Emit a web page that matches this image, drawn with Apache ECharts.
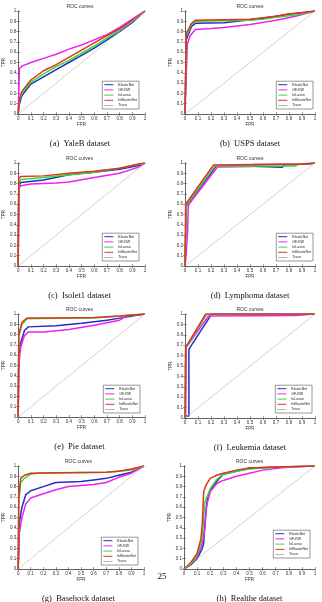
<!DOCTYPE html>
<html>
<head>
<meta charset="utf-8">
<script src="https://cdn.jsdelivr.net/npm/echarts@6/dist/echarts.min.js"></script>
<style>
  html, body { margin: 0; padding: 0; background: #fff; }
  #main { width: 322px; height: 602px; }
</style>
</head>
<body>
<div id="main"></div>
<script>
// names of the methods and the panels
var methods = ["ElasticNet", "GF-RW", "InLasso", "InElasticNet", "Trace"];
var captions = ["(a)  YaleB dataset", "(b)  USPS dataset", "(c)  Isolet1 dataset", "(d)  Lymphoma dataset",
  "(e)  Pie dataset", "(f)  Leukemia dataset", "(g)  Basehock dataset", "(h)  Realthe dataset"];
var pageNumber = "25";
var trace = [[0, 0], [1, 1]];

// (a) YaleB
var yalebElastic = [[0, 0], [0.01, 0.1], [0.03, 0.18], [0.1, 0.29], [0.2, 0.36], [0.3, 0.43], [0.4, 0.5], [0.5, 0.57], [0.6, 0.64], [0.7, 0.72], [0.8, 0.8], [0.9, 0.89], [1, 1]];
var yalebGf = [[0, 0], [0.01, 0.44], [0.03, 0.465], [0.1, 0.5], [0.2, 0.54], [0.3, 0.58], [0.4, 0.63], [0.5, 0.67], [0.56, 0.7], [0.7, 0.77], [0.8, 0.84], [0.9, 0.92], [1, 1]];
var yalebInLasso = [[0, 0], [0.01, 0.13], [0.03, 0.2], [0.1, 0.31], [0.2, 0.39], [0.3, 0.46], [0.4, 0.52], [0.5, 0.59], [0.6, 0.66], [0.7, 0.74], [0.8, 0.82], [0.9, 0.9], [1, 1]];
var yalebInElastic = [[0, 0], [0.01, 0.15], [0.03, 0.22], [0.1, 0.33], [0.2, 0.42], [0.3, 0.48], [0.4, 0.55], [0.5, 0.62], [0.6, 0.69], [0.7, 0.76], [0.8, 0.83], [0.9, 0.91], [1, 1]];

// (b) USPS
var uspsElastic = [[0, 0], [0.01, 0.72], [0.05, 0.85], [0.08, 0.88], [0.3, 0.885], [0.5, 0.915], [0.6, 0.93], [0.7, 0.95], [0.8, 0.97], [0.9, 0.98], [1, 1]];
var uspsGf = [[0, 0], [0.018, 0.68], [0.04, 0.76], [0.08, 0.82], [0.2, 0.83], [0.3, 0.84], [0.5, 0.87], [0.7, 0.91], [0.85, 0.95], [1, 1]];
var uspsInLasso = [[0, 0], [0.01, 0.75], [0.05, 0.87], [0.08, 0.9], [0.3, 0.905], [0.5, 0.91], [0.6, 0.92], [0.7, 0.94], [0.85, 0.96], [1, 1]];
var uspsInElastic = [[0, 0], [0.01, 0.78], [0.05, 0.88], [0.08, 0.91], [0.3, 0.915], [0.5, 0.92], [0.7, 0.95], [0.8, 0.97], [1, 1]];

// (c) Isolet1
var isoletElastic = [[0, 0], [0.005, 0.78], [0.02, 0.81], [0.2, 0.835], [0.4, 0.885], [0.6, 0.91], [0.8, 0.94], [0.95, 0.975], [1, 1]];
var isoletGf = [[0, 0], [0.005, 0.75], [0.02, 0.78], [0.1, 0.795], [0.3, 0.805], [0.4, 0.815], [0.6, 0.86], [0.8, 0.9], [0.95, 0.96], [1, 1]];
var isoletInLasso = [[0, 0], [0.005, 0.8], [0.02, 0.84], [0.2, 0.86], [0.4, 0.885], [0.6, 0.91], [0.8, 0.95], [1, 1]];
var isoletInElastic = [[0, 0], [0.005, 0.85], [0.02, 0.87], [0.2, 0.875], [0.4, 0.9], [0.6, 0.92], [0.8, 0.95], [0.95, 0.99], [1, 1]];

// (d) Lymphoma
var lymphElastic = [[0, 0], [0.01, 0.58], [0.24, 0.97], [0.46, 0.97], [0.47, 0.958], [0.75, 0.958], [0.76, 0.98], [0.95, 0.99], [1, 1]];
var lymphGf = [[0, 0], [0.005, 0.05], [0.02, 0.33], [0.025, 0.57], [0.03, 0.6], [0.25, 0.96], [0.52, 0.965], [0.53, 0.985], [0.95, 0.99], [1, 1]];
var lymphInLasso = [[0, 0], [0.01, 0.59], [0.23, 0.97], [0.85, 0.97], [0.87, 0.99], [1, 1]];
var lymphInElastic = [[0, 0], [0.005, 0.6], [0.22, 0.98], [0.9, 0.99], [1, 1]];

// (e) Pie
var pieElastic = [[0, 0], [0.005, 0.6], [0.02, 0.72], [0.05, 0.84], [0.08, 0.875], [0.3, 0.885], [0.5, 0.91], [0.7, 0.94], [0.8, 0.96], [1, 1]];
var pieGf = [[0, 0], [0.005, 0.5], [0.02, 0.68], [0.05, 0.79], [0.08, 0.825], [0.2, 0.825], [0.4, 0.85], [0.6, 0.89], [0.8, 0.94], [0.85, 0.98], [1, 1]];
var pieInLasso = [[0, 0], [0.005, 0.78], [0.03, 0.9], [0.07, 0.955], [0.3, 0.958], [0.6, 0.962], [0.8, 0.98], [1, 1]];
var pieInElastic = [[0, 0], [0.005, 0.8], [0.03, 0.92], [0.07, 0.96], [0.3, 0.96], [0.6, 0.965], [0.8, 0.98], [1, 1]];

// (f) Leukemia
var leukElastic = [[0, 0], [0.01, 0.02], [0.03, 0.02], [0.03, 0.66], [0.05, 0.7], [0.19, 0.97], [0.2, 1], [1, 1]];
var leukGf = [[0, 0], [0.005, 0.02], [0.01, 0.68], [0.18, 0.98], [0.85, 0.985], [1, 1]];
var leukInLasso = [[0, 0], [0.005, 0.68], [0.02, 0.7], [0.165, 0.995], [1, 1]];
var leukInElastic = [[0, 0], [0.005, 0.69], [0.02, 0.71], [0.16, 1], [1, 1]];

// (g) Basehock
var baseElastic = [[0, 0], [0.005, 0.2], [0.01, 0.45], [0.03, 0.6], [0.06, 0.72], [0.1, 0.76], [0.2, 0.8], [0.3, 0.84], [0.5, 0.85], [0.6, 0.865], [0.7, 0.88], [0.8, 0.91], [0.9, 0.94], [1, 1]];
var baseGf = [[0, 0], [0.005, 0.15], [0.01, 0.35], [0.03, 0.5], [0.06, 0.63], [0.1, 0.69], [0.2, 0.73], [0.3, 0.77], [0.4, 0.8], [0.6, 0.82], [0.7, 0.84], [0.8, 0.89], [0.9, 0.93], [1, 1]];
var baseInLasso = [[0, 0], [0.005, 0.65], [0.02, 0.84], [0.05, 0.88], [0.1, 0.92], [0.15, 0.93], [0.7, 0.94], [0.9, 0.96], [1, 1]];
var baseInElastic = [[0, 0], [0.005, 0.7], [0.02, 0.88], [0.05, 0.91], [0.1, 0.93], [0.3, 0.935], [0.7, 0.94], [0.8, 0.95], [0.9, 0.97], [1, 1]];

// (h) Realthe
var realElastic = [[0, 0], [0.05, 0.04], [0.1, 0.1], [0.14, 0.2], [0.15, 0.25], [0.16, 0.45], [0.18, 0.7], [0.2, 0.77], [0.25, 0.85], [0.27, 0.88], [0.3, 0.92], [0.4, 0.95], [0.5, 0.98], [1, 1]];
var realGf = [[0, 0], [0.05, 0.05], [0.1, 0.12], [0.14, 0.25], [0.16, 0.4], [0.17, 0.6], [0.2, 0.75], [0.25, 0.83], [0.3, 0.86], [0.4, 0.9], [0.5, 0.93], [0.6, 0.96], [0.8, 0.99], [1, 1]];
var realInLasso = [[0, 0], [0.05, 0.05], [0.1, 0.13], [0.14, 0.3], [0.15, 0.5], [0.16, 0.65], [0.2, 0.78], [0.25, 0.87], [0.3, 0.92], [0.4, 0.95], [0.5, 0.97], [0.7, 0.99], [1, 1]];
var realInElastic = [[0, 0], [0.05, 0.06], [0.1, 0.15], [0.13, 0.3], [0.14, 0.45], [0.15, 0.75], [0.17, 0.82], [0.2, 0.88], [0.25, 0.91], [0.3, 0.93], [0.4, 0.96], [0.5, 0.98], [0.7, 0.99], [1, 1]];

var panels = [
  [yalebElastic, yalebGf, yalebInLasso, yalebInElastic],
  [uspsElastic, uspsGf, uspsInLasso, uspsInElastic],
  [isoletElastic, isoletGf, isoletInLasso, isoletInElastic],
  [lymphElastic, lymphGf, lymphInLasso, lymphInElastic],
  [pieElastic, pieGf, pieInLasso, pieInElastic],
  [leukElastic, leukGf, leukInLasso, leukInElastic],
  [baseElastic, baseGf, baseInLasso, baseInElastic],
  [realElastic, realGf, realInLasso, realInElastic]
];

// layout: left, top, width, height of every plot box
var boxes = [[15, 11, 130, 103], [185, 11, 130, 103], [14, 163, 131, 103], [185, 163, 130, 103],
  [14, 314, 131, 103], [185, 314, 130, 104], [13, 466, 131, 103], [184, 466, 131, 103]];
// legend right / bottom offsets in page pixels
var legendPos = [[183, 493], [9, 493], [183, 341], [9, 341], [182, 189], [10, 189], [184, 37], [12, 44]];
var colors = ["#1f2fc0", "#f020f0", "#33dd33", "#e0321e", "#b4b4b4"];
var lineW = [1.5, 1.5, 1.5, 1.5, 0.6];

var option = {
  animation: false,
  backgroundColor: "#fff",
  title: [],
  grid: [],
  xAxis: [],
  yAxis: [],
  legend: [],
  series: []
};

var axisLine = { lineStyle: { color: "#444", width: 0.6 } };
var axisTick = { inside: true, length: 2, lineStyle: { color: "#444", width: 0.5 } };
var lbl = { fontSize: 4.5, color: "#333", fontFamily: "Liberation Sans", margin: 2 };
var nameStyle = { fontSize: 4.5, color: "#333", fontFamily: "Liberation Sans" };

boxes.forEach(function (b, i) {
  option.grid.push({ left: b[0], top: b[1], width: b[2], height: b[3] });
  option.xAxis.push({
    gridIndex: i, type: "value", min: 0, max: 1, interval: 0.1,
    position: "bottom", axisLine: axisLine, axisTick: axisTick,
    axisLabel: lbl, splitLine: { show: false },
    name: "FPR", nameLocation: "middle", nameGap: 8, nameTextStyle: nameStyle
  });
  option.xAxis.push({
    gridIndex: i, type: "value", min: 0, max: 1, interval: 0.1,
    position: "top", axisLine: axisLine, axisTick: axisTick,
    axisLabel: { show: false }, splitLine: { show: false }
  });
  option.yAxis.push({
    gridIndex: i, type: "value", min: 0, max: 1, interval: 0.1,
    position: "left", axisLine: axisLine, axisTick: axisTick,
    axisLabel: lbl, splitLine: { show: false },
    name: "TPR", nameLocation: "middle", nameGap: 9, nameTextStyle: nameStyle
  });
  option.yAxis.push({
    gridIndex: i, type: "value", min: 0, max: 1, interval: 0.1,
    position: "right", axisLine: axisLine, axisTick: axisTick,
    axisLabel: { show: false }, splitLine: { show: false }
  });
  option.title.push({
    text: "ROC curves", left: b[0] + b[2] / 2, top: b[1] - 7, textAlign: "center",
    padding: 0,
    textStyle: { fontSize: 5, fontWeight: "normal", color: "#333", fontFamily: "Liberation Sans" }
  });
  option.title.push({
    text: captions[i], left: b[0] + b[2] / 2, top: b[1] + b[3] + 25, textAlign: "center",
    padding: 0,
    textStyle: { fontSize: 8.5, fontWeight: "normal", color: "#111", fontFamily: "Liberation Serif" }
  });
  option.legend.push({
    data: methods, orient: "vertical", right: legendPos[i][0], bottom: legendPos[i][1],
    icon: "rect", itemWidth: 9, itemHeight: 1, itemGap: 1.2, padding: [1.5, 2],
    borderColor: "#333", borderWidth: 0.5, backgroundColor: "#fff", borderRadius: 0,
    selectedMode: false,
    textStyle: { fontSize: 3.5, lineHeight: 3.8, color: "#222", fontFamily: "Liberation Sans" }
  });
  var curves = panels[i].concat([trace]);
  // trace first so it sits underneath
  [4, 0, 1, 2, 3].forEach(function (k) {
    option.series.push({
      name: methods[k], type: "line", xAxisIndex: 2 * i, yAxisIndex: 2 * i,
      data: curves[k], showSymbol: false, symbol: "none",
      lineStyle: { color: colors[k], width: lineW[k] },
      itemStyle: { color: colors[k] },
      z: 2 + k
    });
  });
});

option.title.push({
  text: pageNumber, left: 162, top: 572, textAlign: "center", padding: 0,
  textStyle: { fontSize: 9, fontWeight: "normal", color: "#111", fontFamily: "Liberation Serif" }
});

var myChart = echarts.init(document.getElementById("main"));
myChart.setOption(option);
</script>
</body>
</html>
